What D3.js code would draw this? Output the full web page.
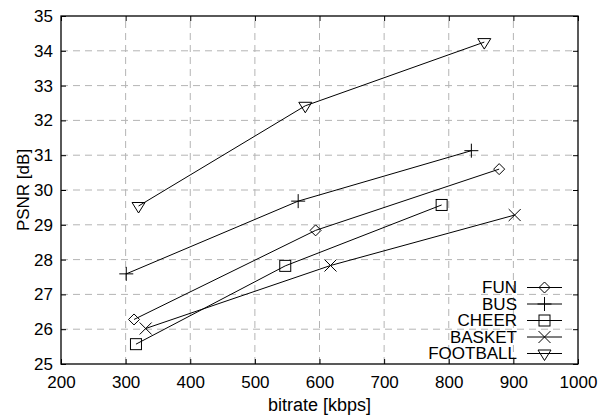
<!DOCTYPE html>
<html>
<head>
<meta charset="utf-8">
<script src="https://cdn.jsdelivr.net/npm/d3@7"></script>
<style>
  body { margin: 0; background: #fff; }
  text { font-family: "Liberation Sans", Arial, sans-serif; fill: #000; }
</style>
</head>
<body>
<svg id="chart"></svg>
<script>
// data
const seriesNames = ["FUN", "BUS", "CHEER", "BASKET", "FOOTBALL"];
const funData = [[313, 26.28], [594, 28.84], [878, 30.6]];
const busData = [[301, 27.59], [567, 29.68], [835, 31.13]];
const cheerData = [[316, 25.57], [547, 27.82], [789, 29.57]];
const basketData = [[331, 26.02], [617, 27.83], [902, 29.28]];
const footballData = [[320, 29.54], [578, 32.42], [855, 34.25]];
const xTicks = [200, 300, 400, 500, 600, 700, 800, 900, 1000];
const yTicks = [25, 26, 27, 28, 29, 30, 31, 32, 33, 34, 35];

const allSeries = [funData, busData, cheerData, basketData, footballData];
const markerTypes = ["diamond", "plus", "square", "cross", "triangle"];

const width = 609, height = 416;
const margin = {top: 16, right: 31, bottom: 52, left: 61};

const svg = d3.select("#chart")
  .attr("width", width)
  .attr("height", height);

const x = d3.scaleLinear().domain([200, 1000]).range([margin.left, width - margin.right]);
const y = d3.scaleLinear().domain([25, 35]).range([height - margin.bottom, margin.top]);

// grid
const grid = svg.append("g").attr("stroke", "#b4b4b4").attr("stroke-dasharray", "7,5").attr("stroke-width", 1);
grid.selectAll(".vgrid").data(xTicks.slice(1, -1)).enter()
  .append("line")
  .attr("x1", d => x(d)).attr("x2", d => x(d))
  .attr("y1", y(25)).attr("y2", y(35));
grid.selectAll(".hgrid").data(yTicks.slice(1, -1)).enter()
  .append("line")
  .attr("x1", x(200)).attr("x2", x(1000))
  .attr("y1", d => y(d)).attr("y2", d => y(d));

// axes
const tickLen = 5;
svg.append("g")
  .attr("transform", `translate(0,${y(25)})`)
  .call(d3.axisBottom(x).tickValues(xTicks).tickFormat(d3.format("d")).tickSize(-tickLen).tickPadding(12))
  .call(g => g.select(".domain").remove());
svg.append("g")
  .attr("transform", `translate(${x(200)},0)`)
  .call(d3.axisLeft(y).tickValues(yTicks).tickSize(-tickLen).tickPadding(8))
  .call(g => g.select(".domain").remove());
svg.append("g")
  .attr("transform", `translate(${x(1000)},0)`)
  .call(d3.axisRight(y).tickValues(yTicks).tickSize(-tickLen).tickFormat(""))
  .call(g => g.select(".domain").remove());
svg.append("g")
  .attr("transform", `translate(0,${y(35)})`)
  .call(d3.axisTop(x).tickValues(xTicks).tickSize(-tickLen).tickFormat(""))
  .call(g => g.select(".domain").remove());

svg.selectAll(".tick text").attr("font-size", 17).attr("font-family", "Liberation Sans, Arial, sans-serif");
svg.selectAll(".tick line").attr("stroke", "#000");

svg.append("rect")
  .attr("x", x(200)).attr("y", y(35))
  .attr("width", x(1000) - x(200)).attr("height", y(25) - y(35))
  .attr("fill", "none").attr("stroke", "#000").attr("stroke-width", 1.3);

// axis titles
svg.append("text")
  .attr("x", (x(200) + x(1000)) / 2).attr("y", 411)
  .attr("text-anchor", "middle").attr("font-size", 18)
  .text("bitrate [kbps]");
svg.append("text")
  .attr("transform", `translate(29,${(y(25) + y(35)) / 2}) rotate(-90)`)
  .attr("text-anchor", "middle").attr("font-size", 17)
  .text("PSNR [dB]");

function drawMarker(g, type, cx, cy) {
  const m = g.append("g").attr("fill", "none").attr("stroke", "#000").attr("stroke-width", 1);
  if (type === "diamond") {
    m.append("path").attr("d", `M${cx},${cy - 5.5}L${cx + 5.5},${cy}L${cx},${cy + 5.5}L${cx - 5.5},${cy}Z`);
  } else if (type === "plus") {
    m.append("path").attr("d", `M${cx - 7},${cy}H${cx + 7}M${cx},${cy - 7}V${cy + 7}`);
  } else if (type === "square") {
    m.append("rect").attr("x", cx - 5.5).attr("y", cy - 5.5).attr("width", 11).attr("height", 11);
  } else if (type === "cross") {
    m.append("path").attr("d", `M${cx - 6},${cy - 6}L${cx + 6},${cy + 6}M${cx - 6},${cy + 6}L${cx + 6},${cy - 6}`);
  } else if (type === "triangle") {
    m.append("path").attr("d", `M${cx - 6.5},${cy - 3.5}H${cx + 6.5}L${cx},${cy + 7}Z`);
  }
}

const line = d3.line().x(d => x(d[0])).y(d => y(d[1]));
const plot = svg.append("g");
allSeries.forEach((data, i) => {
  plot.append("path").datum(data)
    .attr("d", line)
    .attr("fill", "none").attr("stroke", "#000").attr("stroke-width", 1);
  data.forEach(d => drawMarker(plot, markerTypes[i], x(d[0]), y(d[1])));
});

// legend
const legend = svg.append("g");
const legendTop = 287.5, legendStep = 16.5;
seriesNames.forEach((name, i) => {
  const ly = legendTop + i * legendStep;
  legend.append("text")
    .attr("x", 517).attr("y", ly).attr("dy", "0.35em")
    .attr("text-anchor", "end").attr("font-size", 17)
    .text(name);
  legend.append("line")
    .attr("x1", 527).attr("x2", 562).attr("y1", ly).attr("y2", ly)
    .attr("stroke", "#000").attr("stroke-width", 1);
  drawMarker(legend, markerTypes[i], 544.5, ly);
});
</script>
</body>
</html>
